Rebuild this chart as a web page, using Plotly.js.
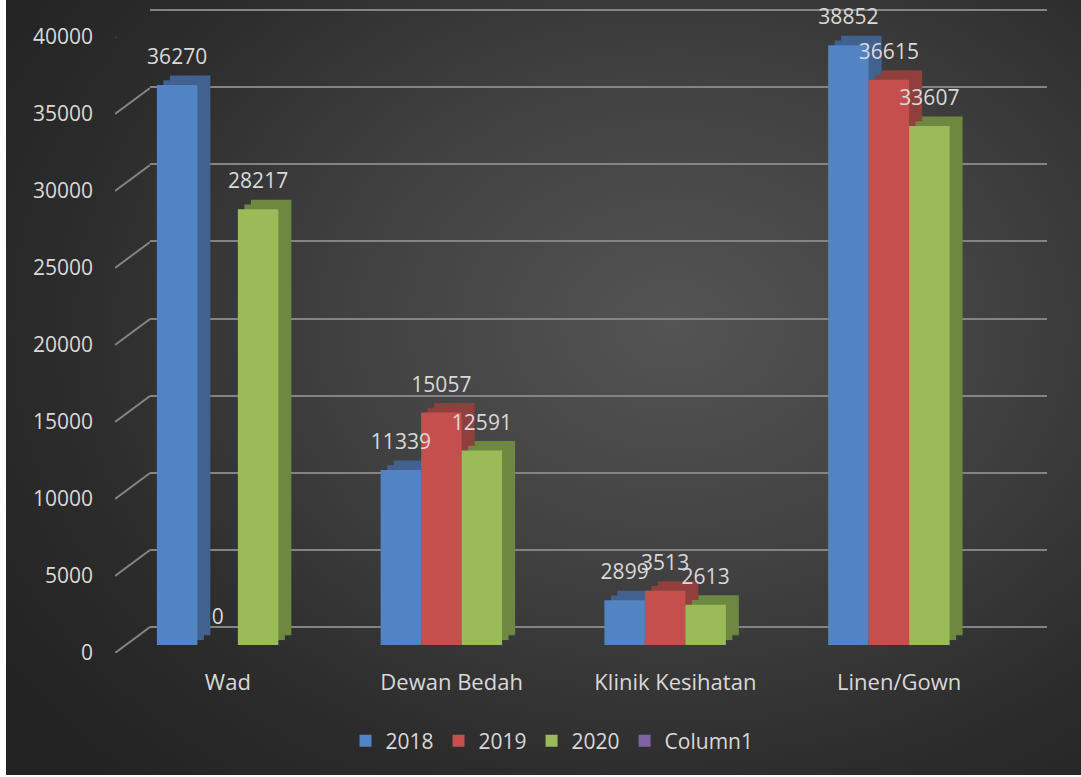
<!DOCTYPE html>
<html>
<head>
<meta charset="utf-8">
<script src="https://cdn.plot.ly/plotly-3.0.1.min.js"></script>
<style>
  body { margin: 0; background: #ffffff; }
  #chart {
    position: absolute; left: 6px; top: 0; width: 1075px; height: 775px;
    background: radial-gradient(ellipse 75% 80% at 62% 42%, #545454 0%, #414141 40%, #2c2c2c 75%, #232323 100%);
  }
</style>
</head>
<body>
<div id="chart"></div>
<script>
// data
const categories = ['Wad', 'Dewan Bedah', 'Klinik Kesihatan', 'Linen/Gown'];
const seriesNames = ['2018', '2019', '2020', 'Column1'];
const values2018 = [36270, 11339, 2899, 38852];
const values2019 = [0, 15057, 3513, 36615];
const values2020 = [28217, 12591, 2613, 33607];
const valuesColumn1 = [null, null, null, null];
const yTicks = [0, 5000, 10000, 15000, 20000, 25000, 30000, 35000, 40000];

const allValues = [values2018, values2019, values2020, valuesColumn1];
const frontColors = ['#5283c3', '#c44f4c', '#9bbb59', '#8064a2'];
const depthColors = ['#41618f', '#903f3d', '#6e8741', '#5e4a78'];
const textColor = '#d9d9d9';
const gridColor = '#848484';
const FONT = '"Open Sans", sans-serif';

// pixel helpers (chart div is 1075x775, offset 6px from the left)
const W = 1075, H = 775, OX = 6;
const fx = px => (px - OX) / W;
const fy = py => 1 - py / H;

const traces = [];

// empty traces so the wall and category-label subplots get drawn
traces.push({ type: 'scatter', x: [null], y: [null], xaxis: 'x', yaxis: 'y', showlegend: false, hoverinfo: 'skip' });
traces.push({ type: 'scatter', x: [null], y: [null], xaxis: 'x7', yaxis: 'y6', showlegend: false, hoverinfo: 'skip' });

// back faces of the 3D columns: full and half depth copies behind the front bars
['x2', 'x3'].forEach((xa, k) => {
    allValues.forEach((vals, i) => {
        traces.push({
            type: 'bar', x: categories, y: vals, xaxis: xa, yaxis: 'y' + (k + 2),
            marker: { color: depthColors[i], line: { width: 0 } },
            showlegend: false, hoverinfo: 'skip'
        });
    });
});

// front faces
allValues.forEach((vals, i) => {
    traces.push({
        type: 'bar', name: seriesNames[i], x: categories, y: vals, xaxis: 'x4', yaxis: 'y4',
        marker: { color: frontColors[i], line: { width: 0 } },
        hoverinfo: 'skip'
    });
});

// data labels (transparent bars, slightly raised)
allValues.forEach((vals, i) => {
    traces.push({
        type: 'bar', x: categories, y: vals, xaxis: 'x5', yaxis: 'y5',
        marker: { color: 'rgba(0,0,0,0)', line: { width: 0 } },
        text: vals.map(v => v === null ? '' : String(v)),
        textposition: 'outside', cliponaxis: false, constraintext: 'none',
        textfont: { family: FONT, size: 21, color: textColor },
        showlegend: false, hoverinfo: 'skip'
    });
});

// diagonal tick connectors on the left wall
const shapes = yTicks.map(v => ({
    type: 'line', xref: 'x6', yref: 'y6', ysizemode: 'pixel', yanchor: v,
    x0: 0, x1: 1, y0: 0, y1: 26,
    line: { color: gridColor, width: 2 }
}));

const hidden = { showgrid: false, zeroline: false, showticklabels: false, ticks: '', showline: false };
const frontX = [fx(126), fx(1021)];
const DX = 13, DY = 9.5;

const layout = {
    width: W, height: H,
    margin: { l: 0, r: 0, t: 0, b: 0 },
    paper_bgcolor: 'rgba(0,0,0,0)',
    plot_bgcolor: 'rgba(0,0,0,0)',
    font: { family: FONT, size: 21, color: textColor },
    barmode: 'group', bargap: 0.276, bargroupgap: 0,
    // back wall gridlines
    xaxis: Object.assign({}, hidden, { domain: [fx(150), fx(1047)], range: [0, 1], anchor: 'y' }),
    yaxis: Object.assign({}, hidden, {
        domain: [fy(634.7), fy(2.3)], range: [-500, 40500], anchor: 'x',
        showgrid: true, gridcolor: gridColor, gridwidth: 2, tickvals: yTicks
    }),
    // full depth copy
    xaxis2: Object.assign({}, hidden, { domain: [fx(126 + DX), fx(1021 + DX)], type: 'category', anchor: 'y2' }),
    yaxis2: Object.assign({}, hidden, { domain: [fy(645 - DY), fy(27.4 - DY)], range: [0, 40000], anchor: 'x2' }),
    // half depth copy
    xaxis3: Object.assign({}, hidden, { domain: [fx(126 + DX / 2), fx(1021 + DX / 2)], type: 'category', anchor: 'y3' }),
    yaxis3: Object.assign({}, hidden, { domain: [fy(645 - DY / 2), fy(27.4 - DY / 2)], range: [0, 40000], anchor: 'x3' }),
    // front bars
    xaxis4: Object.assign({}, hidden, { domain: frontX, type: 'category', anchor: 'y4' }),
    yaxis4: Object.assign({}, hidden, { domain: [fy(645), fy(27.4)], range: [0, 40000], anchor: 'x4' }),
    // data labels
    xaxis5: Object.assign({}, hidden, { domain: frontX, type: 'category', anchor: 'y5' }),
    yaxis5: Object.assign({}, hidden, { domain: [fy(633), fy(15.4)], range: [0, 40000], anchor: 'x5' }),
    // value axis labels
    xaxis6: Object.assign({}, hidden, { domain: [fx(115), fx(150)], range: [0, 1], anchor: 'y6' }),
    yaxis6: Object.assign({}, hidden, {
        domain: [fy(653), fy(37)], range: [0, 40000], anchor: 'x6',
        showticklabels: true, tickvals: yTicks, ticktext: yTicks.map(String), ticklabelstandoff: 21,
        tickfont: { family: FONT, size: 21, color: textColor }
    }),
    // category labels
    xaxis7: Object.assign({}, hidden, {
        domain: [fx(116), fx(1011)], range: [-0.5, 3.5], anchor: 'y6',
        showticklabels: true, tickvals: [0, 1, 2, 3], ticktext: categories,
        ticklabelstandoff: 14, tickfont: { family: FONT, size: 22, color: textColor }
    }),
    shapes: shapes,
    legend: {
        orientation: 'h', x: fx(552), xanchor: 'center', y: fy(741), yanchor: 'middle',
        font: { family: FONT, size: 21, color: textColor }, bgcolor: 'rgba(0,0,0,0)'
    },
    showlegend: true
};

Plotly.newPlot('chart', traces, layout, { staticPlot: true });
</script>
</body>
</html>
